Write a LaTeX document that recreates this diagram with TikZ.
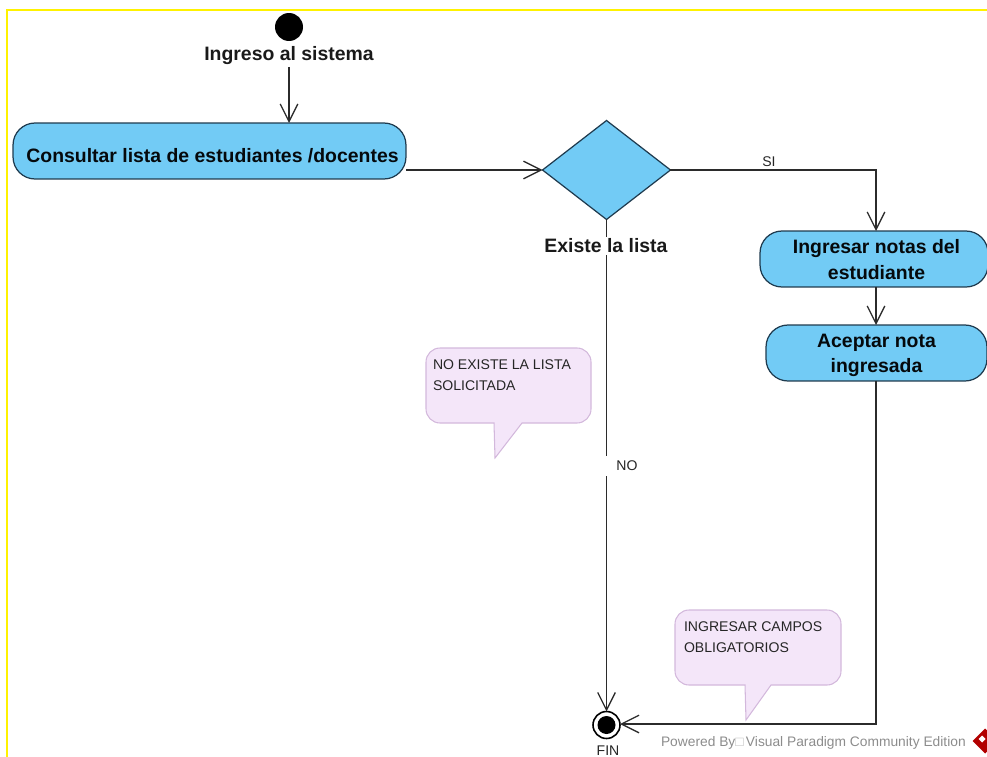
\documentclass[tikz,border=0pt]{standalone}
\usepackage{fontspec}
\setmainfont{Liberation Sans}
\usetikzlibrary{positioning, shapes.geometric, arrows.meta}

\definecolor{actblue}{HTML}{72CBF5}
\definecolor{actline}{HTML}{1F3B4F}
\definecolor{notefill}{HTML}{F4E6F9}
\definecolor{noteline}{HTML}{D3B8DC}
\definecolor{flowline}{HTML}{2B2B2B}

\tikzset{
    every node/.style={outer sep=0pt},
    activity/.style={draw=actline, fill=actblue, rounded corners=0.44cm, line width=0.7pt},
    boldlabel/.style={font=\bfseries\fontsize{11.05}{14.6}\selectfont, text=black!90, inner sep=1pt, align=center},
    smalllabel/.style={font=\fontsize{8}{11.9}\selectfont, text=black!85, inner sep=0pt},
    notebody/.style={draw=noteline, fill=notefill, line width=0.6pt},
    flow/.style={draw=flowline, line width=0.75pt, -{Straight Barb[length=10pt, width=10pt]}}
}

\begin{document}
\begin{tikzpicture}[x=0.02cm, y=-0.02cm]
            \useasboundingbox (0, 0) rectangle (987, 757);
            \draw [yellow, line width=1.5pt] (7, 757) -- (7, 10) -- (987, 10);

            \node (start) [circle, fill=black, minimum size=0.56cm, inner sep=0pt] at (289, 27) {};
            \node (start_label) [boldlabel] at (289, 56) {Ingreso al sistema};
            \node (consultar) [activity, minimum width=7.86cm, minimum height=1.12cm] at (209.5, 151) {};
            \node (consultar_text) [boldlabel, text=black!85!actline] at (212.5, 156) {Consultar lista de estudiantes /docentes};
            \node (lista) [diamond, draw=actline, fill=actblue, line width=0.7pt, minimum width=2.56cm, minimum height=1.98cm, inner sep=0pt] at (606.5, 170) {};
            \node (ingresar) [activity, minimum width=4.56cm, minimum height=1.12cm] at (874, 259) {};
            \node (ingresar_text) [boldlabel, text=black!85!actline] at (876.5, 259.5) {Ingresar notas del\\estudiante};
            \node (aceptar) [activity, minimum width=4.42cm, minimum height=1.12cm] at (876.5, 353) {};
            \node (aceptar_text) [boldlabel, text=black!85!actline] at (876.5, 355.5) {Aceptar nota\\ingresada};
            \node (fin) [circle, draw=black, line width=0.9pt, fill=white, minimum size=0.54cm, inner sep=0pt] at (606.5, 725) {};
            \node (fin_dot) [circle, fill=black, minimum size=0.36cm, inner sep=0pt] at (606.5, 725) {};
            \node (fin_label) [smalllabel] at (608, 751) {FIN};
            \node (si) [smalllabel] at (769, 162) {SI};
            \coordinate (si_corner) at (876, 170);
            \coordinate (fin_corner) at (876, 724);

            \draw [flow] (start_label) -- (start_label |- consultar.north);
            \draw [flow] (consultar.east |- lista.west) -- (lista.west);
            \draw [flow] (lista.south) -- (fin.north);
            \draw [flow] (lista.east) -- (si_corner) -- (si_corner |- ingresar.north);
            \draw [flow] (si_corner |- ingresar.south) -- (si_corner |- aceptar.north);
            \draw [flow] (si_corner |- aceptar.south) -- (fin_corner) -- (fin.east |- fin_corner);

            \node (lista_label) [boldlabel, fill=white] at (606, 246) {Existe la lista};
            \node (no) [smalllabel, fill=white, inner xsep=0.22cm, minimum height=0.4cm] at (627, 466) {NO};

            \draw [notebody] (440, 348) -- (577, 348) arc [start angle=90, end angle=0, radius=0.28cm] -- (591, 409) arc [start angle=0, end angle=-90, radius=0.28cm] -- (522, 423) -- (495, 458) -- (494, 423) -- (440, 423) arc [start angle=-90, end angle=-180, radius=0.28cm] -- (426, 362) arc [start angle=180, end angle=90, radius=0.28cm] -- cycle;
            \node (note_lista) [smalllabel, anchor=north west, align=left] at (433, 360) {NO EXISTE LA LISTA\\SOLICITADA};

            \draw [notebody] (689, 610) -- (827, 610) arc [start angle=90, end angle=0, radius=0.28cm] -- (841, 671) arc [start angle=0, end angle=-90, radius=0.28cm] -- (771, 685) -- (746, 720) -- (745, 685) -- (689, 685) arc [start angle=-90, end angle=-180, radius=0.28cm] -- (675, 624) arc [start angle=180, end angle=90, radius=0.28cm] -- cycle;
            \node (note_campos) [smalllabel, anchor=north west, align=left] at (684, 622) {INGRESAR CAMPOS\\OBLIGATORIOS};

            \node (powered) [smalllabel, font=\fontsize{7.85}{11.9}\selectfont, text=black!45, anchor=west] at (661, 743) {Powered By{\color{black!25}□}\,Visual Paradigm Community Edition};
            \node (logo) [diamond, fill=red!70!black, minimum size=0.5cm, inner sep=0pt] at (985, 741) {};
            \node (logo_mark) [diamond, fill=white, minimum size=0.14cm, inner sep=0pt] at (982, 739) {};
        \end{tikzpicture}
\end{document}
